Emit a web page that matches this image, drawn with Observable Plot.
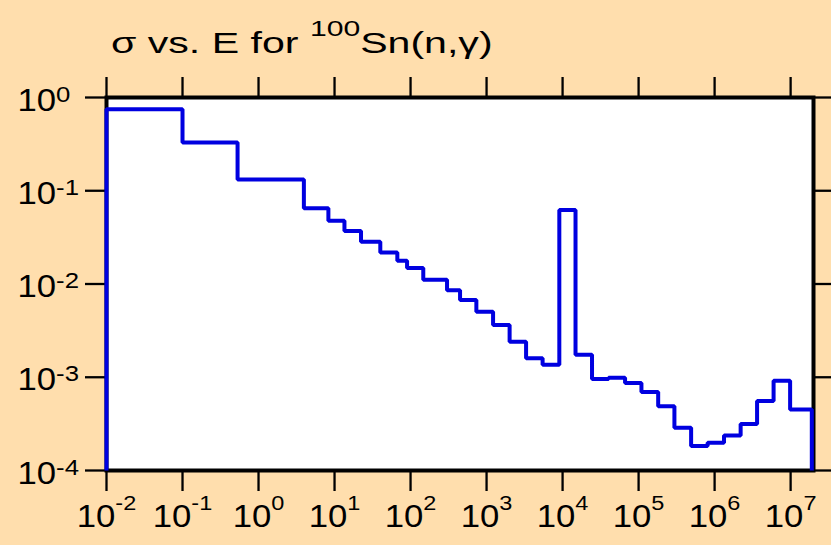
<!DOCTYPE html>
<html><head><meta charset="utf-8">
<script src="https://cdn.jsdelivr.net/npm/d3@7"></script>
<script src="https://cdn.jsdelivr.net/npm/@observablehq/plot@0.6"></script>
<style>
html,body{margin:0;padding:0;background:#ffdead;}
#chart svg{display:block;}
</style></head><body><div id="chart"></div>
<script>
// Bin edges of the energy groups (eV) and group cross sections (b)
const binEdges = [0.01, 0.1, 0.53, 3.95, 8.3, 13.5, 22.3, 40, 67, 90, 147, 302, 448, 734, 1218, 2010, 3310, 5460, 9060, 14800, 24400, 40300, 66400, 109000, 181000, 296000, 491000, 809000, 1.33e6, 2.2e6, 3.62e6, 5.97e6, 9.85e6, 1.9e7];
const sigma = [0.75, 0.33, 0.132, 0.065, 0.0476, 0.037, 0.0284, 0.0218, 0.0178, 0.0148, 0.0111, 0.00855, 0.00675, 0.00505, 0.00364, 0.00241, 0.0016, 0.00136, 0.062, 0.00174, 0.00096, 0.00099, 0.00087, 0.000695, 0.00049, 0.000287, 0.000183, 0.000198, 0.000238, 0.000315, 0.000558, 0.000915, 0.000451];
const xTicks = [1e-2, 1e-1, 1e0, 1e1, 1e2, 1e3, 1e4, 1e5, 1e6, 1e7];
const yTicks = [1e-4, 1e-3, 1e-2, 1e-1, 1e0];
const xDomain = [1e-2, 2e7];
const yDomain = [1e-4, 1];
const titleParts = ["σ vs. E for ", "100", "Sn(n,γ)"];

const yFloor = yDomain[0];
const pathPts = [{E: binEdges[0], s: yFloor}];
sigma.forEach((v, i) => {
  pathPts.push({E: binEdges[i], s: v});
  pathPts.push({E: binEdges[i + 1], s: v});
});
pathPts.push({E: binEdges[binEdges.length - 1], s: yFloor});

const expLabel = d => "10^" + Math.round(Math.log10(d));
const font = "'Liberation Sans', Arial, Helvetica, sans-serif";

const svg = Plot.plot({
  width: 831, height: 545,
  marginLeft: 106, marginRight: 18, marginTop: 97, marginBottom: 75,
  style: {background: "#ffdead", fontFamily: font, overflow: "visible"},
  x: {type: "log", domain: xDomain},
  y: {type: "log", domain: yDomain},
  marks: [
    Plot.frame({fill: "white", stroke: "none"}),
    Plot.axisX({ticks: xTicks, anchor: "bottom", tickSize: 21, strokeWidth: 2.3, tickFormat: () => "", label: null}),
    Plot.axisX({ticks: xTicks, anchor: "top", tickSize: 21, strokeWidth: 2.3, tickFormat: () => "", label: null}),
    Plot.axisY({ticks: yTicks, anchor: "left", tickSize: 21, strokeWidth: 2.3, tickFormat: () => "", label: null}),
    Plot.axisY({ticks: yTicks, anchor: "right", tickSize: 19, strokeWidth: 2.3, tickFormat: () => "", label: null}),
    Plot.frame({stroke: "black", strokeWidth: 4}),
    Plot.line(pathPts, {x: "E", y: "s", stroke: "#0000e0", strokeWidth: 4, strokeLinejoin: "miter", strokeLinecap: "butt"}),
    Plot.text(xTicks, {x: d => d, frameAnchor: "bottom", dy: 56, lineAnchor: "bottom", textAnchor: "middle", text: expLabel, fontSize: 31, fill: "black"}),
    Plot.text(yTicks, {y: d => d, frameAnchor: "left", dx: -89, dy: 13, lineAnchor: "bottom", textAnchor: "start", text: expLabel, fontSize: 31, fill: "black"})
  ]
});

function stretch(node, sx) {
  let tr = node.getAttribute("transform") || "";
  const x = node.getAttribute("x");
  if (x != null && !isNaN(+x)) {
    node.removeAttribute("x");
    tr = `translate(${+x},0) ` + tr;
  }
  node.setAttribute("transform", (tr + ` scale(${sx},1)`).trim());
}

// turn "10^n" labels into 10 with superscript exponent
d3.select(svg).selectAll("text").each(function() {
  const t = this.textContent;
  if (!t.includes("^")) return;
  const g = this.closest("g");
  const isY = g && g.getAttribute("text-anchor") === "start";
  const [base, exp] = t.split("^");
  const sel = d3.select(this);
  sel.text(null);
  sel.append("tspan").text(base);
  sel.append("tspan").attr("dy", isY ? -9 : -17).attr("font-size", isY ? 23 : 21).text(exp);
  stretch(this, 1.12);
});

// title
const title = d3.select(svg).append("text")
  .attr("transform", "translate(111,53) scale(1.37,1)")
  .attr("text-anchor", "start")
  .attr("font-size", 30).attr("font-family", font).attr("fill", "black");
title.append("tspan").text(titleParts[0]);
title.append("tspan").attr("dy", -17.5).attr("font-size", 22).text(titleParts[1]);
title.append("tspan").attr("dy", 17.5).text(titleParts[2]);

document.getElementById("chart").appendChild(svg);
</script></body></html>
